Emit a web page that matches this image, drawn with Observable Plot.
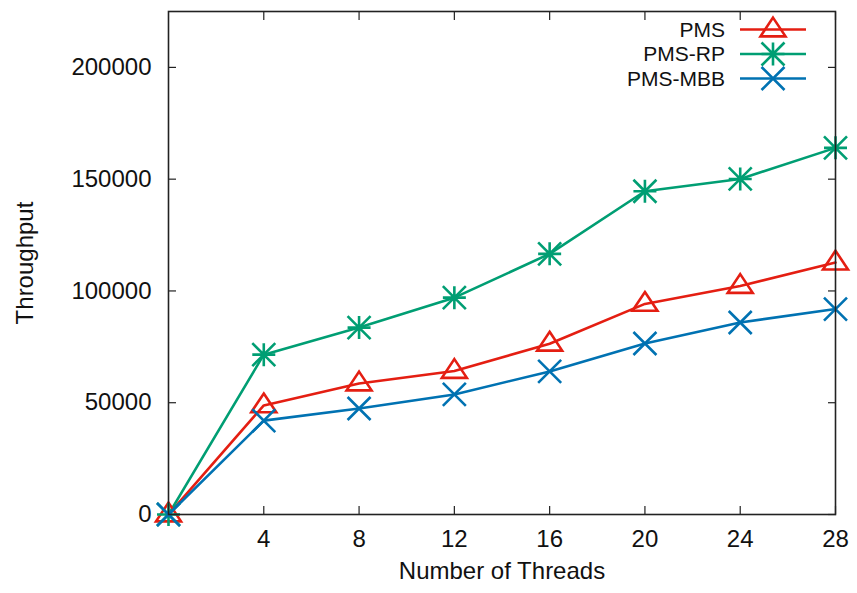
<!DOCTYPE html>
<html><head><meta charset="utf-8">
<script src="https://cdn.jsdelivr.net/npm/d3@7"></script>
<script src="https://cdn.jsdelivr.net/npm/@observablehq/plot@0.6"></script>
<style>
body{margin:0;background:#fff;}
#wrap{position:relative;width:857px;height:593px;}
#legend{position:absolute;left:0;top:0;pointer-events:none;}
</style></head><body><div id="wrap"></div>
<script>
const threads = [0, 4, 8, 12, 16, 20, 24, 28];
const pms = [0, 48800, 58600, 64200, 76400, 94200, 102200, 112700];
const pmsRp = [0, 71500, 83600, 97000, 116600, 144600, 150100, 164000];
const pmsMbb = [0, 42000, 47400, 53700, 64000, 76500, 85900, 91900];
const seriesNames = ["PMS", "PMS-RP", "PMS-MBB"];
const seriesValues = [pms, pmsRp, pmsMbb];
const xTicks = [4, 8, 12, 16, 20, 24, 28];
const yTicks = [0, 50000, 100000, 150000, 200000];
const xLabel = "Number of Threads";
const yLabel = "Throughput";

const colors = ["#e41e12", "#009e73", "#0072b2"];
const FONT = "'Liberation Sans', Arial, Helvetica, sans-serif";

const triSym = {draw(ctx, size){const R = Math.sqrt(size/Math.PI); ctx.moveTo(0,-0.95*R); ctx.lineTo(R,0.55*R); ctx.lineTo(-R,0.55*R); ctx.closePath();}};
const starSym = {draw(ctx, size){const R = Math.sqrt(size/Math.PI); ctx.moveTo(0,-R); ctx.lineTo(0,R); ctx.moveTo(-R,0); ctx.lineTo(R,0); ctx.moveTo(-R,-R); ctx.lineTo(R,R); ctx.moveTo(-R,R); ctx.lineTo(R,-R);}};
const timesSym = {draw(ctx, size){const R = Math.sqrt(size/Math.PI); ctx.moveTo(-R,-R); ctx.lineTo(R,R); ctx.moveTo(-R,R); ctx.lineTo(R,-R);}};
const symbols = [triSym, starSym, timesSym];
const symR = [12.5, 11.5, 11.5];

const series = seriesNames.map((name, i) => threads.map((t, j) => ({threads: t, value: seriesValues[i][j], name})));

const marks = [];
series.forEach((rows, i) => {
  marks.push(Plot.line(rows, {x: "threads", y: "value", stroke: colors[i], strokeWidth: 2.6}));
});
series.forEach((rows, i) => {
  marks.push(Plot.dot(rows, {x: "threads", y: "value", symbol: symbols[i], r: symR[i], stroke: colors[i], fill: "none", strokeWidth: 2.6}));
});

const chart = Plot.plot({
  width: 857, height: 593,
  marginLeft: 168, marginRight: 22, marginTop: 11, marginBottom: 79,
  style: {fontFamily: FONT, fontSize: "24px", color: "#111", background: "#fff"},
  x: {domain: [0, 28]},
  y: {domain: [0, 225000]},
  marks: [
    Plot.axisY({ticks: yTicks, tickSize: 0, tickPadding: 17, tickFormat: d => String(d), label: null}),
    Plot.axisY({ticks: yTicks, anchor: "left", tickSize: -8, tickFormat: () => "", label: null, stroke: "#222", strokeWidth: 1.2}),
    Plot.axisY({ticks: yTicks, anchor: "right", tickSize: -8, tickFormat: () => "", label: null, stroke: "#222", strokeWidth: 1.2}),
    Plot.axisX({ticks: xTicks, tickSize: 0, tickPadding: 15, tickFormat: d => String(d), label: null}),
    Plot.axisX({ticks: xTicks, anchor: "bottom", tickSize: -8, tickFormat: () => "", label: null, stroke: "#222", strokeWidth: 1.2}),
    Plot.axisX({ticks: xTicks, anchor: "top", tickSize: -8, tickFormat: () => "", label: null, stroke: "#222", strokeWidth: 1.2}),
    Plot.text([yLabel], {frameAnchor: "left", textAnchor: "middle", lineAnchor: "middle", dx: -143, rotate: -90, fontSize: 24}),
    Plot.text([xLabel], {frameAnchor: "bottom", textAnchor: "middle", lineAnchor: "middle", dy: 57, fontSize: 24}),
    ...marks,
    Plot.frame({stroke: "#222", strokeWidth: 1.6})
  ]
});
const wrap = document.getElementById("wrap");
wrap.appendChild(chart);

// Legend (top-right inside plot)
const lg = d3.select(wrap).append("svg").attr("id", "legend").attr("width", 857).attr("height", 593)
  .style("font-family", FONT).style("font-size", "21px");
const rowY = [29.5, 54, 78.5];
seriesNames.forEach((name, i) => {
  const g = lg.append("g").attr("transform", `translate(0,${rowY[i]})`);
  g.append("text").attr("x", 725).attr("y", 0).attr("dy", "0.35em").attr("text-anchor", "end").attr("fill", "#111").text(name);
  g.append("line").attr("x1", 740).attr("x2", 806).attr("y1", 0).attr("y2", 0).attr("stroke", colors[i]).attr("stroke-width", 2.6);
  const p = d3.path(); symbols[i].draw(p, Math.PI * symR[i] * symR[i]);
  g.append("path").attr("d", p.toString()).attr("transform", "translate(773,0)").attr("fill", "none").attr("stroke", colors[i]).attr("stroke-width", 2.6);
});
</script></body></html>
